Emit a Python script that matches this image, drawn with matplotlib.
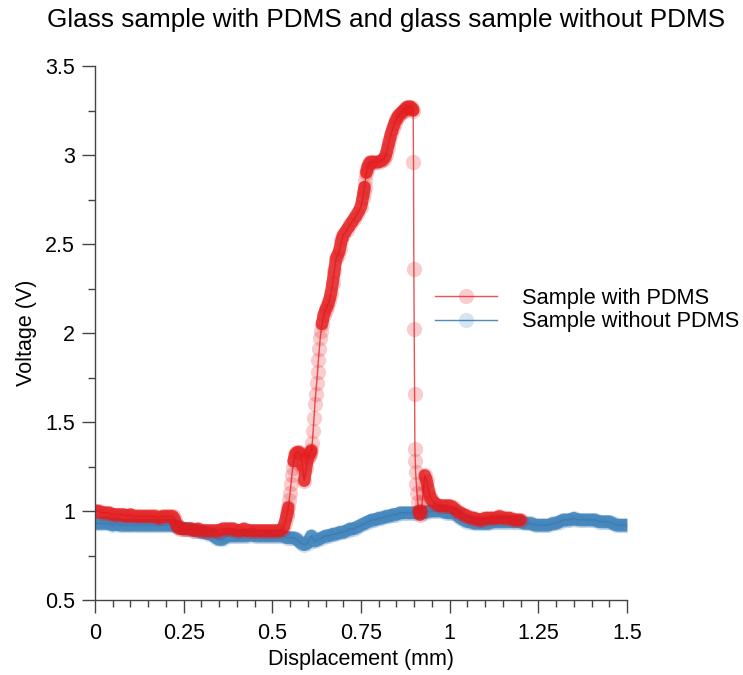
import numpy as np
import matplotlib
matplotlib.use("Agg")
import matplotlib.pyplot as plt
from matplotlib.ticker import MultipleLocator, FuncFormatter

plt.rcParams['font.family'] = ['Liberation Sans', 'DejaVu Sans']

# -----------------------------
# Data
# -----------------------------
# Sample with PDMS
x_pdms = [
    0.00, 0.01, 0.02, 0.03, 0.04, 0.05, 0.06, 0.07, 0.08, 0.09,
    0.10, 0.11, 0.12, 0.13, 0.14, 0.15, 0.16, 0.17, 0.18, 0.19,
    0.20, 0.21, 0.22, 0.225, 0.23, 0.235, 0.24, 0.25, 0.26, 0.27,
    0.28, 0.29, 0.30, 0.31, 0.32, 0.33, 0.34, 0.35, 0.36, 0.37,
    0.38, 0.39, 0.40, 0.41, 0.42, 0.43, 0.44, 0.45, 0.46, 0.47,
    0.48, 0.49, 0.50, 0.51, 0.52, 0.53, 0.535, 0.54, 0.5425, 0.545,
    0.5475, 0.55, 0.5525, 0.555, 0.5575, 0.56, 0.565, 0.57, 0.575, 0.58,
    0.585, 0.59, 0.595, 0.60, 0.6025, 0.605, 0.6075, 0.61, 0.6125, 0.615,
    0.6175, 0.62, 0.6225, 0.625, 0.6275, 0.63, 0.6325, 0.635, 0.6375, 0.64,
    0.645, 0.65, 0.655, 0.66, 0.665, 0.67, 0.675, 0.68, 0.685, 0.69,
    0.695, 0.70, 0.71, 0.72, 0.73, 0.74, 0.75, 0.755, 0.7575, 0.76,
    0.7625, 0.765, 0.7675, 0.77, 0.775, 0.78, 0.79, 0.80, 0.81, 0.815,
    0.82, 0.825, 0.83, 0.835, 0.84, 0.845, 0.85, 0.855, 0.86, 0.865,
    0.87, 0.875, 0.88, 0.885, 0.89, 0.895, 0.897, 0.898, 0.899, 0.900,
    0.901, 0.902, 0.903, 0.904, 0.906, 0.908, 0.910, 0.913, 0.916, 0.92,
    0.9225, 0.925, 0.9275, 0.93, 0.935, 0.94, 0.945, 0.95, 0.96, 0.97,
    0.98, 0.99, 1.00, 1.01, 1.02, 1.03, 1.04, 1.05, 1.06, 1.07,
    1.08, 1.09, 1.10, 1.11, 1.12, 1.13, 1.14, 1.15, 1.16, 1.17,
    1.18, 1.19, 1.20,
]
v_pdms = [
    1.00, 1.00, 0.99, 0.99, 0.99, 0.98, 0.98, 0.98, 0.98, 0.97,
    0.98, 0.97, 0.97, 0.97, 0.97, 0.97, 0.97, 0.97, 0.96, 0.97,
    0.97, 0.97, 0.97, 0.95, 0.92, 0.91, 0.90, 0.90, 0.90, 0.90,
    0.89, 0.90, 0.89, 0.89, 0.89, 0.89, 0.89, 0.89, 0.90, 0.90,
    0.90, 0.90, 0.89, 0.89, 0.90, 0.89, 0.89, 0.89, 0.89, 0.89,
    0.89, 0.89, 0.89, 0.89, 0.89, 0.90, 0.93, 0.97, 0.99, 1.02,
    1.06, 1.10, 1.15, 1.20, 1.24, 1.28, 1.32, 1.33, 1.33, 1.32,
    1.25, 1.17, 1.24, 1.30, 1.31, 1.32, 1.33, 1.34, 1.38, 1.45,
    1.52, 1.60, 1.66, 1.72, 1.78, 1.85, 1.91, 1.97, 2.01, 2.05,
    2.10, 2.13, 2.15, 2.18, 2.22, 2.28, 2.35, 2.42, 2.44, 2.47,
    2.52, 2.55, 2.58, 2.61, 2.64, 2.67, 2.71, 2.76, 2.79, 2.82,
    2.86, 2.90, 2.92, 2.94, 2.96, 2.96, 2.96, 2.96, 2.97, 2.98,
    3.00, 3.04, 3.08, 3.12, 3.15, 3.18, 3.20, 3.22, 3.23, 3.24,
    3.25, 3.26, 3.27, 3.27, 3.27, 3.26, 3.25, 2.96, 2.36, 2.02,
    1.66, 1.35, 1.28, 1.22, 1.15, 1.10, 1.05, 1.00, 0.98, 1.00,
    1.05, 1.10, 1.15, 1.20, 1.17, 1.12, 1.08, 1.06, 1.04, 1.03,
    1.03, 1.03, 1.03, 1.02, 1.00, 0.99, 0.98, 0.97, 0.96, 0.96,
    0.95, 0.95, 0.96, 0.96, 0.96, 0.96, 0.97, 0.96, 0.96, 0.96,
    0.95, 0.95, 0.95,
]

# Sample without PDMS
x_bare = [
    0.00, 0.01, 0.02, 0.03, 0.04, 0.05, 0.06, 0.07, 0.08, 0.09,
    0.10, 0.11, 0.12, 0.13, 0.14, 0.15, 0.16, 0.17, 0.18, 0.19,
    0.20, 0.21, 0.22, 0.23, 0.24, 0.25, 0.26, 0.27, 0.28, 0.29,
    0.30, 0.31, 0.32, 0.33, 0.34, 0.35, 0.36, 0.37, 0.38, 0.39,
    0.40, 0.41, 0.42, 0.43, 0.44, 0.45, 0.46, 0.47, 0.48, 0.49,
    0.50, 0.51, 0.52, 0.53, 0.54, 0.55, 0.56, 0.57, 0.58, 0.59,
    0.60, 0.61, 0.62, 0.63, 0.64, 0.65, 0.66, 0.67, 0.68, 0.69,
    0.70, 0.71, 0.72, 0.73, 0.74, 0.75, 0.76, 0.77, 0.78, 0.79,
    0.80, 0.81, 0.82, 0.83, 0.84, 0.85, 0.86, 0.87, 0.88, 0.89,
    0.90, 0.91, 0.92, 0.93, 0.94, 0.95, 0.96, 0.97, 0.98, 0.99,
    1.00, 1.01, 1.02, 1.03, 1.04, 1.05, 1.06, 1.07, 1.08, 1.09,
    1.10, 1.11, 1.12, 1.13, 1.14, 1.15, 1.16, 1.17, 1.18, 1.19,
    1.20, 1.21, 1.22, 1.23, 1.24, 1.25, 1.26, 1.27, 1.28, 1.29,
    1.30, 1.31, 1.32, 1.33, 1.34, 1.35, 1.36, 1.37, 1.38, 1.39,
    1.40, 1.41, 1.42, 1.43, 1.44, 1.45, 1.46, 1.47, 1.48, 1.49,
    1.50,
]
v_bare = [
    0.93, 0.93, 0.93, 0.93, 0.93, 0.92, 0.93, 0.92, 0.92, 0.92,
    0.92, 0.92, 0.92, 0.92, 0.92, 0.92, 0.92, 0.92, 0.92, 0.92,
    0.92, 0.92, 0.92, 0.91, 0.91, 0.90, 0.90, 0.90, 0.89, 0.89,
    0.88, 0.88, 0.87, 0.87, 0.85, 0.84, 0.84, 0.86, 0.86, 0.86,
    0.86, 0.86, 0.86, 0.86, 0.87, 0.86, 0.86, 0.86, 0.86, 0.86,
    0.86, 0.86, 0.86, 0.86, 0.85, 0.85, 0.85, 0.84, 0.82, 0.81,
    0.82, 0.86, 0.83, 0.84, 0.85, 0.86, 0.86, 0.87, 0.87, 0.88,
    0.88, 0.89, 0.90, 0.90, 0.91, 0.92, 0.93, 0.94, 0.95, 0.95,
    0.96, 0.96, 0.97, 0.97, 0.98, 0.98, 0.99, 0.99, 0.99, 0.99,
    0.99, 0.99, 0.99, 0.99, 1.00, 1.00, 1.00, 1.00, 1.00, 0.99,
    0.99, 0.99, 0.98, 0.96, 0.95, 0.94, 0.94, 0.93, 0.93, 0.93,
    0.93, 0.93, 0.94, 0.94, 0.94, 0.94, 0.94, 0.94, 0.94, 0.94,
    0.94, 0.93, 0.93, 0.93, 0.92, 0.92, 0.92, 0.92, 0.92, 0.93,
    0.93, 0.94, 0.95, 0.95, 0.95, 0.96, 0.95, 0.95, 0.95, 0.95,
    0.95, 0.95, 0.94, 0.94, 0.94, 0.94, 0.93, 0.92, 0.92, 0.92,
    0.92,
]

labels = ['Sample with PDMS', 'Sample without PDMS']
red = (0.894, 0.102, 0.110)
blue = (0.216, 0.494, 0.722)


def band(x, y, max_slope=15.0):
    # break the dense band where the trace moves fast (samples spread out there)
    x = np.asarray(x, float)
    y = np.asarray(y, float)
    slope = np.abs(np.diff(y) / np.diff(x))
    cut = np.where(slope > max_slope)[0] + 1
    return np.insert(x, cut, np.nan), np.insert(y, cut, np.nan)


# -----------------------------
# Plot
# -----------------------------
fig = plt.figure(figsize=(7.43, 6.75), dpi=100)
ax = fig.add_axes([95 / 743, 1 - 600 / 675, (627 - 95) / 743, (600 - 66) / 675])

# dense translucent band behind the points (mimics the overlapping raw samples)
bx, by = band(x_bare, v_bare)
ax.plot(bx, by, color=blue, alpha=0.8, lw=9, solid_capstyle='round',
        solid_joinstyle='round')
h_bare, = ax.plot(x_bare, v_bare, color=blue + (0.9,), lw=1,
                  marker='o', markersize=11, mfc=blue + (0.2,), mec='none')

bx, by = band(x_pdms, v_pdms)
ax.plot(bx, by, color=red, alpha=0.8, lw=9, solid_capstyle='round',
        solid_joinstyle='round')
h_pdms, = ax.plot(x_pdms, v_pdms, color=red + (0.75,), lw=1,
                  marker='o', markersize=11, mfc=red + (0.22,), mec='none')

ax.set_xlim(0, 1.5)
ax.set_ylim(0.5, 3.5)
ax.xaxis.set_major_locator(MultipleLocator(0.25))
ax.xaxis.set_minor_locator(MultipleLocator(0.05))
ax.yaxis.set_major_locator(MultipleLocator(0.5))
ax.yaxis.set_minor_locator(MultipleLocator(0.25))
fmt = FuncFormatter(lambda v, p: f'{v:g}')
ax.xaxis.set_major_formatter(fmt)
ax.yaxis.set_major_formatter(fmt)

for side in ['top', 'right']:
    ax.spines[side].set_visible(False)
for side in ['left', 'bottom']:
    ax.spines[side].set_color('#444444')
    ax.spines[side].set_linewidth(1)
ax.tick_params(which='major', length=9.5, width=1, color='#444444',
               labelsize=15.5, pad=5)
ax.tick_params(which='minor', length=5, width=1, color='#444444')
ax.tick_params(axis='x', which='major', pad=7)

ax.set_xlabel('Displacement (mm)', fontsize=15.5, labelpad=4)
ax.set_ylabel('Voltage (V)', fontsize=15.5, labelpad=6)

fig.text(386 / 743, 1 - 20 / 675, 'Glass sample with PDMS and glass sample without PDMS',
         fontsize=18.8, ha='center', va='center')

fig.legend([h_pdms, h_bare], labels, loc='center left',
           bbox_to_anchor=(435 / 743, 1 - 310 / 675), frameon=False,
           fontsize=15.7, numpoints=1, handlelength=2.84, handletextpad=1.15,
           labelspacing=0.12, borderpad=0, borderaxespad=0)

fig.savefig('out.png', dpi=100)
